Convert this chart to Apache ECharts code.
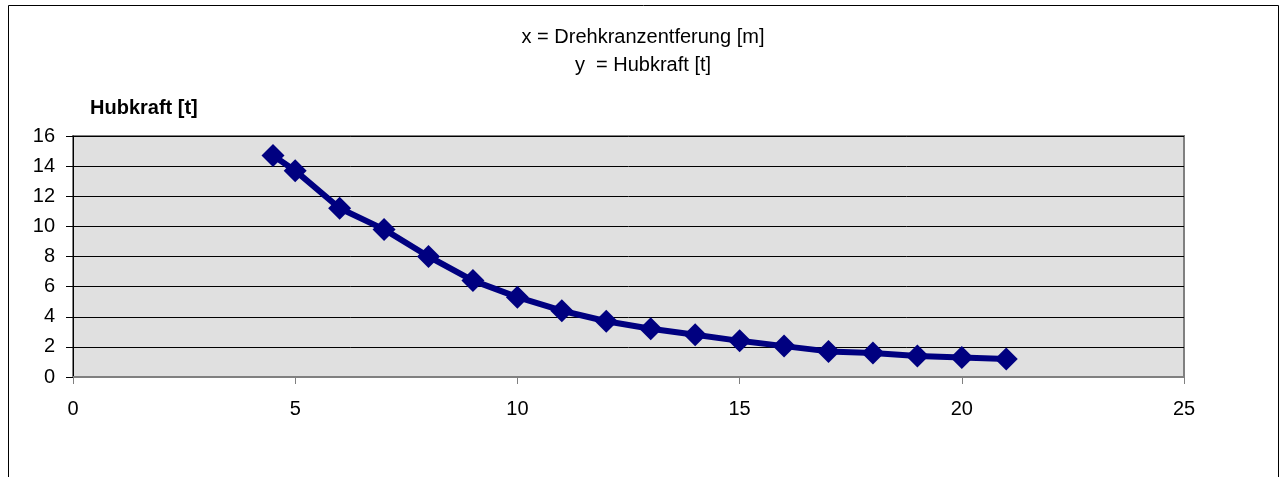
<!DOCTYPE html>
<html>
<head>
<meta charset="utf-8">
<script src="https://cdn.jsdelivr.net/npm/echarts@6/dist/echarts.min.js"></script>
<style>
  html, body { margin: 0; padding: 0; background: #fff; }
  #chart { width: 1286px; height: 477px; }
</style>
</head>
<body>
<div id="chart"></div>
<script>
  // Drehkranzentfernung [m]
  var distances = [4.5, 5, 6, 7, 8, 9, 10, 11, 12, 13, 14, 15, 16, 17, 18, 19, 20, 21]
  // Hubkraft [t]
  var liftForce = [14.7, 13.7, 11.2, 9.8, 8.0, 6.4, 5.3, 4.4, 3.7, 3.2, 2.8, 2.4, 2.05, 1.7, 1.6, 1.4, 1.3, 1.2]
  var titleLines = ['x = Drehkranzentferung [m]', 'y  = Hubkraft [t]']
  var yAxisName = 'Hubkraft [t]'

  var chart = echarts.init(document.getElementById('chart'))
  var font = 'Liberation Sans, Arial, sans-serif'

  chart.setOption({
    backgroundColor: '#fff',
    animation: false,
    title: {
      text: titleLines.join('\n'),
      left: 'center',
      top: 18,
      textStyle: {
        fontFamily: font,
        fontWeight: 'normal',
        fontSize: 20,
        color: '#000',
        lineHeight: 28
      }
    },
    graphic: [
      {
        type: 'rect',
        shape: { x: 8.5, y: 5.5, width: 1270, height: 480 },
        style: { fill: 'none', stroke: '#000', lineWidth: 1 },
        silent: true,
        z: -1
      }
    ],
    grid: {
      left: 73,
      right: 102,
      top: 136,
      bottom: 100,
      show: true,
      backgroundColor: '#e0e0e0',
      borderColor: '#808080',
      borderWidth: 2
    },
    xAxis: {
      type: 'value',
      min: 0,
      max: 25,
      interval: 5,
      axisLine: { lineStyle: { color: '#808080', width: 2 } },
      axisTick: { show: true, length: 7, lineStyle: { color: '#808080', width: 1 } },
      axisLabel: { fontFamily: font, fontSize: 20, color: '#000', margin: 22 },
      splitLine: { show: false }
    },
    yAxis: {
      type: 'value',
      min: 0,
      max: 16,
      interval: 2,
      name: yAxisName,
      nameLocation: 'end',
      nameGap: 28,
      nameTextStyle: {
        fontFamily: font,
        fontWeight: 'bold',
        fontSize: 20,
        color: '#000',
        align: 'left',
        verticalAlign: 'middle',
        padding: [0, 0, 0, 17]
      },
      axisLine: { show: true, lineStyle: { color: '#000', width: 1 } },
      axisTick: { show: true, length: 7, lineStyle: { color: '#000' } },
      axisLabel: { fontFamily: font, fontSize: 20, color: '#000', margin: 18 },
      splitLine: { show: true, lineStyle: { color: '#000', width: 1 } }
    },
    series: [
      {
        type: 'line',
        data: distances.map(function (d, i) { return [d, liftForce[i]] }),
        symbol: 'diamond',
        symbolSize: 23,
        showAllSymbol: true,
        lineStyle: { color: '#000080', width: 6 },
        itemStyle: { color: '#000080' }
      }
    ]
  })
</script>
</body>
</html>
